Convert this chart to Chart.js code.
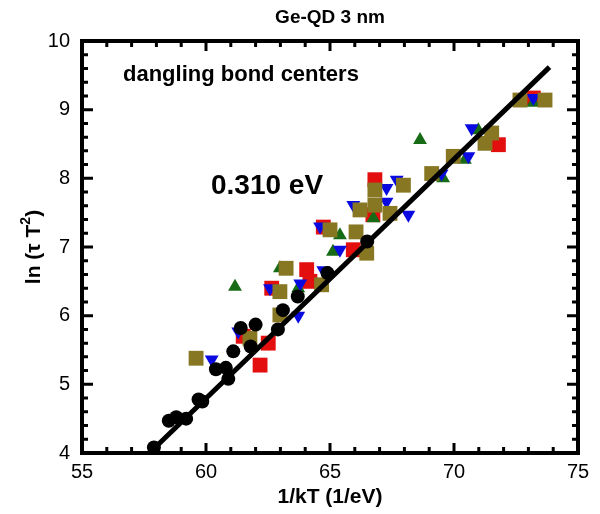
<!DOCTYPE html>
<html>
<head>
<meta charset="utf-8">
<script src="https://cdn.jsdelivr.net/npm/chart.js@4"></script>
<style>
html,body{margin:0;padding:0;background:#fff;}
#wrap{width:600px;height:514px;position:relative;}
</style>
</head>
<body>
<div id="wrap"><canvas id="c" width="600" height="514"></canvas></div>
<script>
// ---- data (1/kT in 1/eV, ln(tau T^2)) ----
const blackX = [57.9, 58.5, 58.8, 59.2, 59.7, 59.85, 60.4, 60.8, 60.9, 61.1, 61.4, 61.8, 62.0, 62.9, 63.1, 63.7, 64.9, 66.5];
const blackY = [4.08, 4.47, 4.52, 4.50, 4.78, 4.75, 5.22, 5.24, 5.08, 5.48, 5.82, 5.55, 5.87, 5.80, 6.08, 6.28, 6.62, 7.08];

const redX = [62.65, 64.06, 64.19, 64.73, 65.94, 66.81, 66.73, 62.18, 62.51, 61.5, 71.79, 73.2];
const redY = [6.40, 6.67, 6.50, 7.29, 6.96, 7.98, 7.47, 5.28, 5.60, 5.70, 8.49, 9.17];

const oliveX = [59.6, 61.77, 62.98, 62.98, 63.23, 64.66, 65.0, 66.05, 66.48, 66.21, 66.81, 66.81, 67.42, 67.96, 69.1, 69.97, 71.25, 71.52, 72.66, 73.67];
const oliveY = [5.38, 5.67, 6.01, 6.35, 6.69, 6.45, 7.25, 7.22, 6.91, 7.54, 7.83, 7.61, 7.49, 7.90, 8.07, 8.32, 8.51, 8.66, 9.14, 9.14];

const blueX = [60.23, 61.3, 62.58, 63.8, 63.72, 64.73, 64.6, 65.4, 65.94, 67.28, 67.28, 67.69, 68.16, 69.5, 70.58, 70.71, 73.2];
const blueY = [5.36, 5.77, 6.40, 6.47, 6.00, 6.66, 7.30, 6.96, 7.61, 7.86, 7.66, 7.98, 7.47, 8.07, 8.32, 8.73, 9.17];

const greenX = [61.17, 62.98, 63.72, 65.12, 65.4, 66.75, 68.63, 69.56, 70.44, 70.98, 73.2];
const greenY = [6.42, 6.69, 6.40, 6.93, 7.17, 7.42, 8.56, 8.00, 8.27, 8.70, 9.10];

const fitX = [57.8, 73.85];
const fitY = [4.03, 9.62];

const xTickLabels = [55, 60, 65, 70, 75];
const yTickLabels = [4, 5, 6, 7, 8, 9, 10];

const titleText = "Ge-QD 3 nm";
const noteText = "dangling bond centers";
const energyText = "0.310 eV";
const xTitle = "1/kT (1/eV)";

const FONT = 'Arial, "Liberation Sans", sans-serif';

function pts(xs, ys){ return xs.map((x,i)=>({x:x, y:ys[i]})); }

const frameTicks = {
  id: 'frameTicks',
  afterDraw(chart){
    const ctx = chart.ctx, xs = chart.scales.x, ys = chart.scales.y;
    const a = chart.chartArea;
    ctx.save();
    ctx.strokeStyle = '#000';
    ctx.lineWidth = 3;
    ctx.lineCap = 'butt';
    for (let v = 55; v <= 75; v++){
      const px = xs.getPixelForValue(v);
      const len = (v % 5 === 0) ? 10 : 6;
      ctx.beginPath();
      ctx.moveTo(px, a.bottom); ctx.lineTo(px, a.bottom - len);
      ctx.moveTo(px, a.top); ctx.lineTo(px, a.top + len);
      ctx.stroke();
    }
    for (let k = 0; k <= 30; k++){
      const v = 4 + k*0.2;
      const py = ys.getPixelForValue(v);
      const len = (k % 5 === 0) ? 11 : 6;
      ctx.beginPath();
      ctx.moveTo(a.left, py); ctx.lineTo(a.left + len, py);
      ctx.moveTo(a.right, py); ctx.lineTo(a.right - len, py);
      ctx.stroke();
    }
    ctx.lineWidth = 4;
    ctx.strokeRect(a.left, a.top, a.right - a.left, a.bottom - a.top);

    ctx.fillStyle = '#000';
    // title
    ctx.font = 'bold 19px ' + FONT;
    ctx.textAlign = 'center'; ctx.textBaseline = 'middle';
    ctx.fillText(titleText, (a.left + a.right)/2, 18);
    // annotations
    ctx.textAlign = 'left'; ctx.textBaseline = 'alphabetic';
    ctx.font = 'bold 22px ' + FONT;
    ctx.fillText(noteText, 123, 81);
    ctx.font = 'bold 28px ' + FONT;
    ctx.fillText(energyText, 211, 194);
    // x title
    ctx.font = 'bold 21px ' + FONT;
    ctx.textAlign = 'center'; ctx.textBaseline = 'middle';
    ctx.fillText(xTitle, (a.left + a.right)/2, 497);
    // y title with superscript
    ctx.translate(32, (a.top + a.bottom)/2);
    ctx.rotate(-Math.PI/2);
    const p1 = "ln (\u03C4 T", p2 = "2", p3 = ")";
    const fMain = 'bold 21px ' + FONT, fSup = 'bold 14px ' + FONT;
    ctx.font = fMain; const w1 = ctx.measureText(p1).width, w3 = ctx.measureText(p3).width;
    ctx.font = fSup; const w2 = ctx.measureText(p2).width;
    let sx = -(w1 + w2 + w3)/2;
    ctx.textAlign = 'left'; ctx.textBaseline = 'alphabetic';
    ctx.font = fMain; ctx.fillText(p1, sx, 8); sx += w1;
    ctx.font = fSup; ctx.fillText(p2, sx, -2); sx += w2;
    ctx.font = fMain; ctx.fillText(p3, sx, 8);
    ctx.restore();
  }
};

const sq = 10.5, tri = 8, circ = 7;

new Chart(document.getElementById('c'), {
  type: 'scatter',
  data: {
    datasets: [
      { type:'line', data: pts(fitX, fitY), borderColor:'#000', borderWidth:5, pointRadius:0, fill:false, order:0 },
      { data: pts(blackX, blackY), pointStyle:'circle', pointRadius:circ, backgroundColor:'#000', borderColor:'#000', borderWidth:0, order:1 },
      { data: pts(oliveX, oliveY), pointStyle:'rect', pointRadius:sq, backgroundColor:'#877722', borderColor:'#877722', borderWidth:0, order:2 },
      { data: pts(blueX, blueY), pointStyle:'triangle', rotation:180, pointRadius:tri, backgroundColor:'#0a0ae0', borderColor:'#0a0ae0', borderWidth:0, order:3 },
      { data: pts(greenX, greenY), pointStyle:'triangle', pointRadius:tri, backgroundColor:'#176b17', borderColor:'#176b17', borderWidth:0, order:4 },
      { data: pts(redX, redY), pointStyle:'rect', pointRadius:sq, backgroundColor:'#e30f0f', borderColor:'#e30f0f', borderWidth:0, order:5 }
    ]
  },
  options: {
    responsive:false, animation:false, devicePixelRatio:1,
    layout:{ padding:{ left:0, right:22, top:41, bottom:0 } },
    plugins:{ legend:{display:false}, tooltip:{enabled:false}, title:{display:false} },
    elements:{ point:{ hoverRadius:0 } },
    scales:{
      x:{
        type:'linear', min:55, max:75,
        grid:{ display:false, drawTicks:false },
        border:{ display:false },
        ticks:{ stepSize:1, autoSkip:false, maxRotation:0, padding:7, color:'#000',
          font:{ family:FONT, size:20 },
          callback:(v)=> xTickLabels.includes(Math.round(v)) && Math.abs(v-Math.round(v))<1e-6 ? String(Math.round(v)) : '' },
        afterFit:(s)=>{ s.height = 61; }
      },
      y:{
        type:'linear', min:4, max:10,
        grid:{ display:false, drawTicks:false },
        border:{ display:false },
        ticks:{ stepSize:0.2, autoSkip:false, padding:12, color:'#000',
          font:{ family:FONT, size:20 },
          callback:(v)=> (Math.abs(v-Math.round(v))<1e-6 && yTickLabels.includes(Math.round(v))) ? String(Math.round(v)) : '' },
        afterFit:(s)=>{ s.width = 82; }
      }
    }
  },
  plugins:[frameTicks]
});
</script>
</body>
</html>
